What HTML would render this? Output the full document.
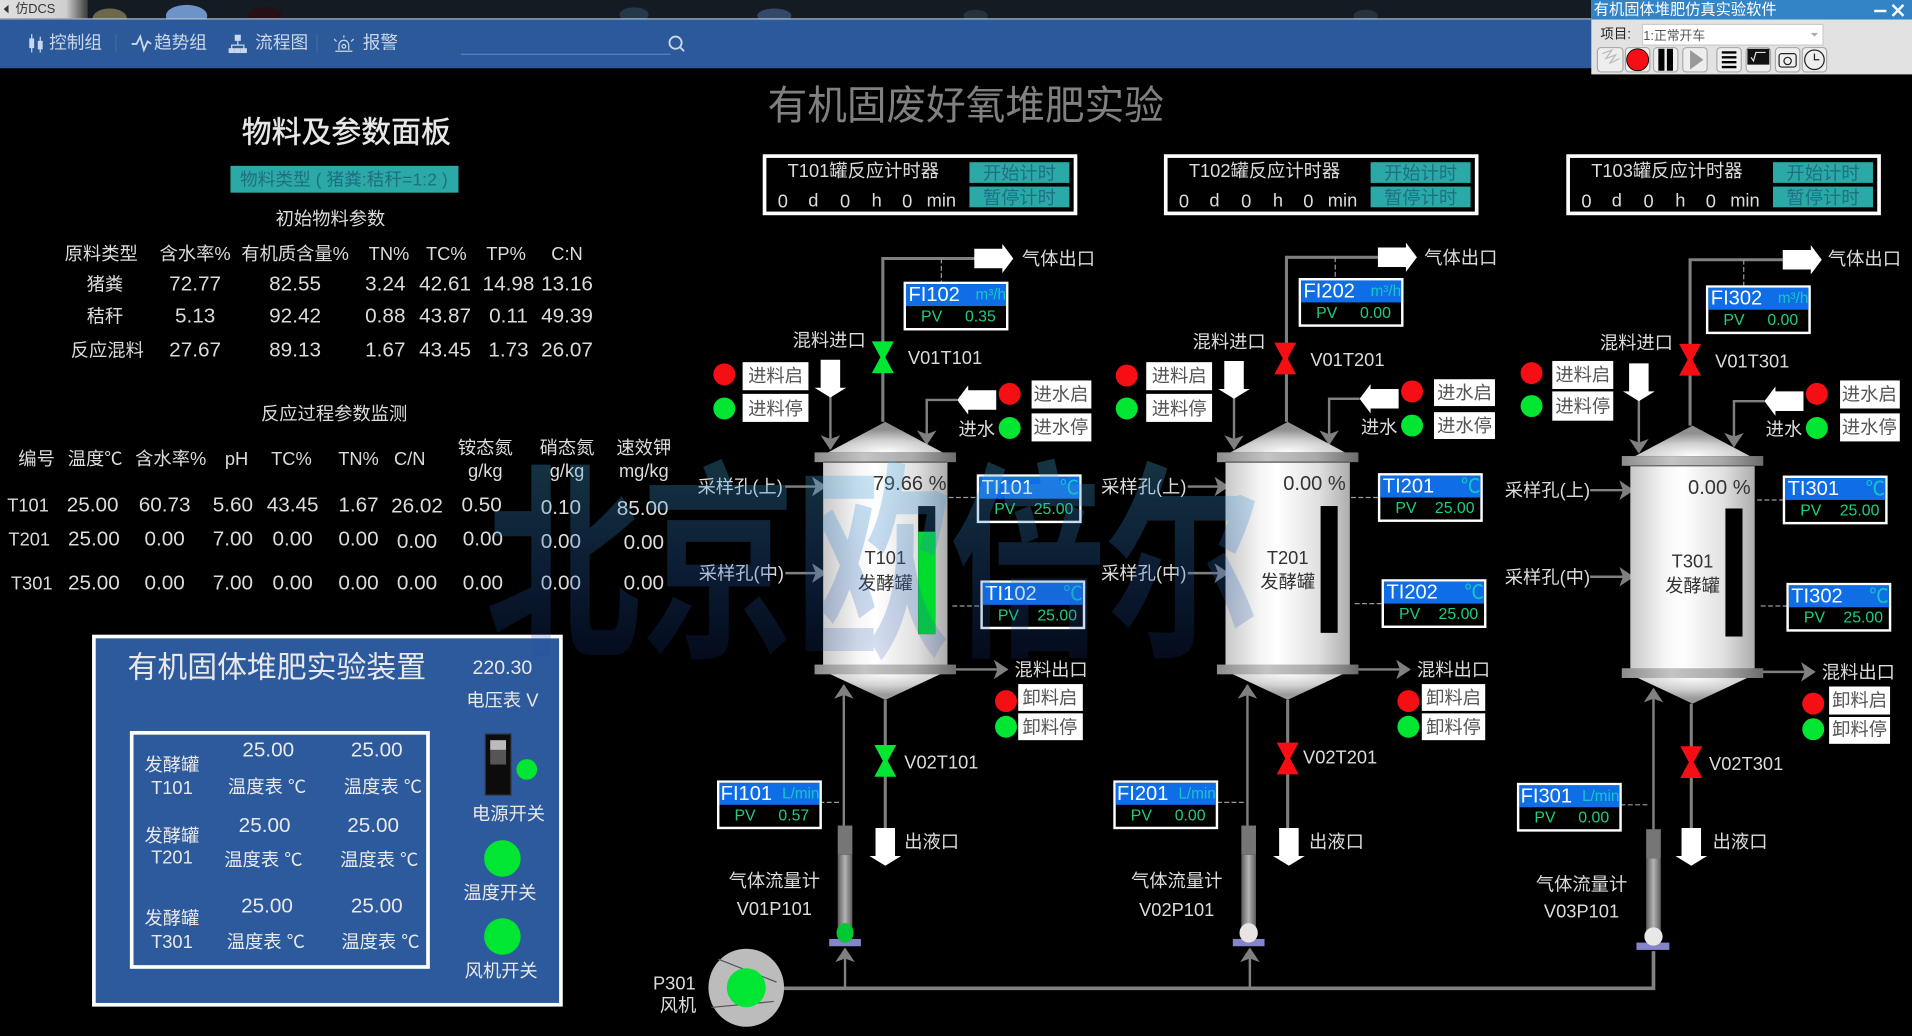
<!DOCTYPE html>
<html><head><meta charset="utf-8"><style>
html,body{margin:0;padding:0;background:#000;width:1912px;height:1036px;overflow:hidden}
svg{display:block;position:absolute;left:0;top:0}
text{font-family:"Liberation Sans","Noto Sans CJK SC",sans-serif;text-anchor:middle;dominant-baseline:central;fill:#dcdcdc;font-size:15px}
.n{font-size:17px}.k{fill:#333}
.lb{fill:#555;font-size:15px}
.nm{text-anchor:start;fill:#fff;font-size:16.5px}
.un{text-anchor:end;fill:#14c8c8;font-size:12.5px}
.pv{fill:#1fcf7c;font-size:13px}
.bt{fill:#1f7085;font-size:15px}
.hd{fill:#c9d8ec;font-size:14.5px}
.pw{fill:#e8e8e8;font-size:15px}
.pw.n{font-size:17px}
</style></head><body>
<svg width="1912" height="1036" viewBox="0 0 1568 849.6" xmlns="http://www.w3.org/2000/svg">
<defs>
<linearGradient id="body" x1="0" x2="1" y1="0" y2="0"><stop offset="0" stop-color="#c8c8c8"/><stop offset=".28" stop-color="#f6f6f6"/><stop offset=".42" stop-color="#fff"/><stop offset=".75" stop-color="#e0e0e0"/><stop offset="1" stop-color="#adadad"/></linearGradient>
<radialGradient id="dome" cx=".5" cy="1" r=".75"><stop offset="0" stop-color="#fff"/><stop offset=".55" stop-color="#d0d0d0"/><stop offset="1" stop-color="#8f8f8f"/></radialGradient>
<radialGradient id="cone" cx=".5" cy="0" r=".8"><stop offset="0" stop-color="#fff"/><stop offset=".6" stop-color="#cfcfcf"/><stop offset="1" stop-color="#9a9a9a"/></radialGradient>
<linearGradient id="fl" x1="0" x2="1" y1="0" y2="0"><stop offset="0" stop-color="#8c8c8c"/><stop offset=".35" stop-color="#c4c4c4"/><stop offset=".7" stop-color="#aaa"/><stop offset="1" stop-color="#6c6c6c"/></linearGradient>
<linearGradient id="fm" x1="0" x2="1" y1="0" y2="0"><stop offset="0" stop-color="#5c5c5c"/><stop offset=".5" stop-color="#b4b4b4"/><stop offset="1" stop-color="#5c5c5c"/></linearGradient>
<linearGradient id="wm" x1="0" x2="0" y1="0" y2="1"><stop offset="0" stop-color="#48b4e0" stop-opacity=".3"/><stop offset=".5" stop-color="#2a6cc0" stop-opacity=".27"/><stop offset="1" stop-color="#1438a0" stop-opacity=".14"/></linearGradient>
<marker id="ah" markerUnits="userSpaceOnUse" markerWidth="14" markerHeight="16" refX="11" refY="8" orient="auto"><path d="M0,0 L12,8 L0,16 L3,8 z" fill="#808080"/></marker>
<g id="tank">
<polygon points="0,0 47,25 -47,25" fill="url(#dome)"/>
<rect x="-51" y="30" width="102" height="172" fill="url(#body)"/>
<rect x="-58" y="25" width="116" height="8" fill="url(#fl)"/>
<line x1="-51" x2="51" y1="33" y2="33" stroke="#555"/>
<polygon points="-47,206 47,206 0,228" fill="url(#cone)"/>
<rect x="-58" y="199" width="116" height="8" fill="url(#fl)"/>
</g>
<g id="ib"><rect x="0" y="0" width="84" height="38" fill="#000" stroke="#fff" stroke-width="2"/><rect x="1" y="1" width="82" height="18" fill="#0f6de6"/></g>
<polygon id="vg" points="-9,-13 9,-13 2,0 9,13 -9,13 -2,0" fill="#00e632"/>
<polygon id="vr" points="-9,-13 9,-13 2,0 9,13 -9,13 -2,0" fill="#f50f14"/>
<polygon id="ad" points="-8,0 8,0 8,23 13,23 0,31 -13,23 -8,23" fill="#fff"/>
<polygon id="ar" points="0,-8 23,-8 23,-12 32,0 23,12 23,8 0,8" fill="#fff"/>
<polygon id="al" points="0,-8 -23,-8 -23,-12 -32,0 -23,12 -23,8 0,8" fill="#fff"/>
<g id="meter"><rect x="-6" y="0" width="12" height="24" fill="#767676"/><rect x="-6" y="24" width="12" height="61" fill="url(#fm)"/></g>
<linearGradient id="tl" x1="0" x2="1" y1="0" y2="0"><stop offset="0" stop-color="#e0e0e0"/><stop offset=".75" stop-color="#d0d0d0"/><stop offset="1" stop-color="#3a3a3a"/></linearGradient>
</defs>

<rect width="1568" height="850" fill="#000"/>
<!-- top strip -->
<rect width="1568" height="15" fill="#141b22"/>
<rect width="72" height="15" fill="url(#tl)"/>
<ellipse cx="90" cy="15" rx="14" ry="8" fill="#6d6a4c"/><ellipse cx="153" cy="13" rx="17" ry="9" fill="#6c94c8"/><ellipse cx="217" cy="12" rx="14" ry="6" fill="#261016"/><ellipse cx="520" cy="12" rx="12" ry="6" fill="#26384c"/><ellipse cx="635" cy="13" rx="14" ry="6" fill="#33486a"/><ellipse cx="800" cy="13" rx="10" ry="5" fill="#26323e"/><ellipse cx="1120" cy="13" rx="10" ry="5" fill="#26323e"/>
<path d="M7,4L3,7.500L7,11z" fill="#333"/>
<text x="29" y="7" style="font-size:10.500px;fill:#333">仿DCS</text>
<rect y="15" width="1568" height="1" fill="#b0c0cc"/>
<rect y="16" width="1568" height="40" fill="#2c5999"/>
<g stroke="#c9d8ec" fill="none">
<path d="M26,28v15M33,30v13" stroke-width="1"/><path d="M24.500,32h3v7h-3zM31.500,34h3v6h-3z" fill="#c9d8ec"/>
<path d="M108,36l4,0 3,-6 3,11 3,-7 3,2" stroke-width="1.500"/>
<path d="M195,33v4M190,41v-4h10v4" stroke-width="1"/><rect x="193" y="29" width="4" height="4" fill="#c9d8ec"/><rect x="188" y="40" width="4" height="3" fill="#c9d8ec"/><rect x="193" y="40" width="4" height="3" fill="#c9d8ec"/><rect x="198" y="40" width="4" height="3" fill="#c9d8ec"/>
<path d="M278,41v-4a4,4 0 0 1 8,0v4M275,42h14M282,29v2M274,32l2,2M290,32l-2,2" stroke-width="1"/><circle cx="282" cy="38" r="1.500"/>
<path d="M378,44.500h172" stroke="#5d83b8"/><circle cx="554" cy="35" r="5" stroke-width="1.500"/><path d="M558,39l3,3" stroke-width="1.500"/>
<path d="M95,28v15M260,28v15" stroke="#3f6aa8"/>
</g>
<text class="hd" x="62" y="35">控制组</text><text class="hd" x="148" y="35">趋势组</text><text class="hd" x="231" y="35">流程图</text><text class="hd" x="312" y="35">报警</text>
<!-- left panel -->
<text x="284" y="109" style="font-size:24.500px;stroke:#e8e8e8;stroke-width:.35;fill:#e8e8e8">物料及参数面板</text>
<rect x="189" y="136" width="187" height="22" fill="#2aa9a6"/>
<text x="282" y="147" style="font-size:14.500px;fill:#1f6f84">物料类型 ( 猪粪:秸秆=1:2 )</text>
<text x="271" y="179">初始物料参数</text>
<text x="83" y="208">原料类型</text><text x="160" y="208">含水率%</text><text x="242" y="208">有机质含量%</text><text x="319" y="208">TN%</text><text x="366" y="208">TC%</text><text x="415" y="208">TP%</text><text x="465" y="208">C:N</text>
<text x="86" y="233">猪粪</text><text class="n" x="160" y="233">72.77</text><text class="n" x="242" y="233">82.55</text><text class="n" x="316" y="233">3.24</text><text class="n" x="365" y="233">42.61</text><text class="n" x="417" y="233">14.98</text><text class="n" x="465" y="233">13.16</text>
<text x="86" y="259">秸秆</text><text class="n" x="160" y="259">5.13</text><text class="n" x="242" y="259">92.42</text><text class="n" x="316" y="259">0.88</text><text class="n" x="365" y="259">43.87</text><text class="n" x="417" y="259">0.11</text><text class="n" x="465" y="259">49.39</text>
<text x="88" y="287">反应混料</text><text class="n" x="160" y="287">27.67</text><text class="n" x="242" y="287">89.13</text><text class="n" x="316" y="287">1.67</text><text class="n" x="365" y="287">43.45</text><text class="n" x="417" y="287">1.73</text><text class="n" x="465" y="287">26.07</text>
<text x="274" y="339">反应过程参数监测</text>
<text x="30" y="376">编号</text><text x="78" y="376">温度℃</text><text x="140" y="376">含水率%</text><text x="194" y="376">pH</text><text x="239" y="376">TC%</text><text x="294" y="376">TN%</text><text x="336" y="376">C/N</text>
<text x="398" y="367">铵态氮</text><text x="398" y="386">g/kg</text><text x="465" y="367">硝态氮</text><text x="465" y="386">g/kg</text><text x="528" y="367">速效钾</text><text x="528" y="386">mg/kg</text>
<text x="23" y="414">T101</text><text class="n" x="76" y="414">25.00</text><text class="n" x="135" y="414">60.73</text><text class="n" x="191" y="414">5.60</text><text class="n" x="240" y="414">43.45</text><text class="n" x="294" y="414">1.67</text><text class="n" x="342" y="415">26.02</text><text class="n" x="395" y="414">0.50</text><text class="n" x="460" y="416">0.10</text><text class="n" x="527" y="417">85.00</text>
<text x="24" y="442">T201</text><text class="n" x="77" y="442">25.00</text><text class="n" x="135" y="442">0.00</text><text class="n" x="191" y="442">7.00</text><text class="n" x="240" y="442">0.00</text><text class="n" x="294" y="442">0.00</text><text class="n" x="342" y="444">0.00</text><text class="n" x="396" y="442">0.00</text><text class="n" x="460" y="444">0.00</text><text class="n" x="528" y="445">0.00</text>
<text x="26" y="478">T301</text><text class="n" x="77" y="478">25.00</text><text class="n" x="135" y="478">0.00</text><text class="n" x="191" y="478">7.00</text><text class="n" x="240" y="478">0.00</text><text class="n" x="294" y="478">0.00</text><text class="n" x="342" y="478">0.00</text><text class="n" x="396" y="478">0.00</text><text class="n" x="460" y="478">0.00</text><text class="n" x="528" y="478">0.00</text>
<!-- device panel -->
<rect x="77" y="522" width="383" height="302" fill="#2d5a9c" stroke="#fff" stroke-width="3"/>
<text class="pw" x="227" y="548" style="font-size:24.500px">有机固体堆肥实验装置</text>
<text class="pw" x="412" y="548" style="font-size:16px">220.30</text><text class="pw" x="412" y="574">电压表 V</text>
<rect x="108" y="601" width="243" height="192" fill="none" stroke="#fff" stroke-width="3"/>
<text class="pw" x="141" y="627">发酵罐</text><text class="pw" x="141" y="646">T101</text><text class="pw n" x="220" y="615">25.00</text><text class="pw n" x="309" y="615">25.00</text><text class="pw" x="219" y="645">温度表 ℃</text><text class="pw" x="314" y="645">温度表 ℃</text>
<text class="pw" x="141" y="685">发酵罐</text><text class="pw" x="141" y="703">T201</text><text class="pw n" x="217" y="677">25.00</text><text class="pw n" x="306" y="677">25.00</text><text class="pw" x="216" y="705">温度表 ℃</text><text class="pw" x="311" y="705">温度表 ℃</text>
<text class="pw" x="141" y="753">发酵罐</text><text class="pw" x="141" y="772">T301</text><text class="pw n" x="219" y="743">25.00</text><text class="pw n" x="309" y="743">25.00</text><text class="pw" x="218" y="772">温度表 ℃</text><text class="pw" x="312" y="772">温度表 ℃</text>
<rect x="398" y="602" width="21" height="50" fill="#0c0c0c" stroke="#333"/><rect x="402" y="607" width="13" height="8" fill="#bbb"/><rect x="402" y="615" width="13" height="12" fill="#555"/>
<circle cx="432" cy="631" r="8.500" fill="#00e632"/><text class="pw" x="417" y="667">电源开关</text>
<circle cx="412" cy="704" r="15" fill="#00e632"/><text class="pw" x="410" y="732">温度开关</text>
<circle cx="412" cy="768" r="15" fill="#00e632"/><text class="pw" x="411" y="796">风机开关</text>
<!-- title -->
<text x="792" y="87" style="font-size:32.500px;fill:#808080">有机固废好氧堆肥实验</text>
<!-- timers -->
<g id="t1"><rect x="627" y="128" width="255" height="47" fill="#000" stroke="#fff" stroke-width="3"/><rect x="795" y="133" width="82" height="17" fill="#2aa9a6"/><rect x="795" y="153" width="82" height="17" fill="#2aa9a6"/>
<text x="708" y="140">T101罐反应计时器</text><text class="bt" x="836" y="142">开始计时</text><text class="bt" x="836" y="162">暂停计时</text>
<text x="642" y="165">0</text><text x="667" y="164">d</text><text x="693" y="165">0</text><text x="719" y="164">h</text><text x="744" y="165">0</text><text x="772" y="164">min</text></g>
<g transform="translate(329,0)"><rect x="627" y="128" width="255" height="47" fill="#000" stroke="#fff" stroke-width="3"/><rect x="795" y="133" width="82" height="17" fill="#2aa9a6"/><rect x="795" y="153" width="82" height="17" fill="#2aa9a6"/>
<text x="708" y="140">T102罐反应计时器</text><text class="bt" x="836" y="142">开始计时</text><text class="bt" x="836" y="162">暂停计时</text>
<text x="642" y="165">0</text><text x="667" y="164">d</text><text x="693" y="165">0</text><text x="719" y="164">h</text><text x="744" y="165">0</text><text x="772" y="164">min</text></g>
<g transform="translate(659,0)"><rect x="627" y="128" width="255" height="47" fill="#000" stroke="#fff" stroke-width="3"/><rect x="795" y="133" width="82" height="17" fill="#2aa9a6"/><rect x="795" y="153" width="82" height="17" fill="#2aa9a6"/>
<text x="708" y="140">T103罐反应计时器</text><text class="bt" x="836" y="142">开始计时</text><text class="bt" x="836" y="162">暂停计时</text>
<text x="642" y="165">0</text><text x="667" y="164">d</text><text x="693" y="165">0</text><text x="719" y="164">h</text><text x="744" y="165">0</text><text x="772" y="164">min</text></g>

<!-- pipes -->
<g fill="none" stroke="#808080" stroke-width="2">
<path d="M724,346V212H800" stroke-width="2.500"/><path d="M681,325V368" marker-end="url(#ah)"/><path d="M785,328H760V364" marker-end="url(#ah)"/>
<path d="M644,399H677" marker-end="url(#ah)"/><path d="M644,470H677" marker-end="url(#ah)"/><path d="M782,549H826" marker-end="url(#ah)"/>
<path d="M726,574V680" stroke-width="2.500"/><path d="M692,677V562" marker-end="url(#ah)"/>
<path d="M1055,346V211H1130" stroke-width="2.500"/><path d="M1012,325V368" marker-end="url(#ah)"/><path d="M1115,327H1090V364" marker-end="url(#ah)"/>
<path d="M974,399H1007" marker-end="url(#ah)"/><path d="M974,470H1007" marker-end="url(#ah)"/><path d="M1112,549H1156" marker-end="url(#ah)"/>
<path d="M1056,574V680" stroke-width="2.500"/><path d="M1023,677V562" marker-end="url(#ah)"/>
<path d="M1386,349V213H1462" stroke-width="2.500"/><path d="M1344,328V371" marker-end="url(#ah)"/><path d="M1447,329H1422V366" marker-end="url(#ah)"/>
<path d="M1304,402H1339" marker-end="url(#ah)"/><path d="M1304,473H1339" marker-end="url(#ah)"/><path d="M1444,551H1488" marker-end="url(#ah)"/>
<path d="M1387,577V680" stroke-width="2.500"/><path d="M1356,680V565" marker-end="url(#ah)"/>
<path d="M640,810.500H1356V780" stroke-width="3"/><path d="M693,810V778" stroke-width="2" marker-end="url(#ah)"/><path d="M1025,810V778" marker-end="url(#ah)"/>
</g>
<g fill="none" stroke="#999" stroke-dasharray="4 2">
<path d="M772,212V232M1095,211V229M1430,213V235"/>
<path d="M778,408H802M781,497H805M1108,408H1131M1111,495H1134M1441,410H1463M1444,497H1466"/>
<path d="M672,658H690M998,658H1021M1329,660H1352"/>
</g>
<!-- tanks -->
<use href="#tank" x="726" y="346"/><use href="#tank" x="1056" y="346"/><use href="#tank" x="1388" y="349"/>
<rect x="753" y="415" width="14" height="105" fill="#000"/><rect x="753" y="436" width="14" height="84" fill="#00dc2e"/>
<rect x="1083" y="415" width="14" height="104" fill="#000"/><rect x="1415" y="417" width="14" height="105" fill="#000"/>
<text class="k" x="746" y="397" style="font-size:16.500px">79.66 %</text><text class="k" x="1078" y="397" style="font-size:16.500px">0.00  %</text><text class="k" x="1410" y="400" style="font-size:16.500px">0.00  %</text>
<text class="k" x="726" y="457">T101</text><text class="k" x="726" y="478">发酵罐</text>
<text class="k" x="1056" y="457">T201</text><text class="k" x="1056" y="477">发酵罐</text>
<text class="k" x="1388" y="460">T301</text><text class="k" x="1388" y="480">发酵罐</text>
<!-- arrows -->
<use href="#ar" x="799" y="212"/><use href="#ar" x="1130" y="211"/><use href="#ar" x="1462" y="213"/>
<use href="#ad" x="681" y="295"/><use href="#ad" x="1012" y="296"/><use href="#ad" x="1344" y="298"/>
<use href="#al" x="817" y="328"/><use href="#al" x="1147" y="327"/><use href="#al" x="1479" y="329"/>
<use href="#ad" x="726" y="679"/><use href="#ad" x="1057" y="679"/><use href="#ad" x="1387" y="679"/>
<!-- valves -->
<use href="#vg" x="724" y="293"/><use href="#vr" x="1054" y="294"/><use href="#vr" x="1386" y="295"/>
<use href="#vg" x="726" y="624"/><use href="#vr" x="1056" y="622"/><use href="#vr" x="1387" y="625"/>
<text x="775" y="293">V01T101</text><text x="1105" y="295">V01T201</text><text x="1437" y="296">V01T301</text>
<text x="772" y="625">V02T101</text><text x="1099" y="621">V02T201</text><text x="1432" y="626">V02T301</text>
<!-- labels -->
<text x="868" y="212">气体出口</text><text x="1198" y="211">气体出口</text><text x="1529" y="212">气体出口</text>
<text x="680" y="279">混料进口</text><text x="1008" y="280">混料进口</text><text x="1342" y="281">混料进口</text>
<text x="607" y="399">采样孔(上)</text><text x="608" y="470">采样孔(中)</text><text x="938" y="399">采样孔(上)</text><text x="938" y="470">采样孔(中)</text><text x="1269" y="402">采样孔(上)</text><text x="1269" y="473">采样孔(中)</text>
<text x="862" y="549">混料出口</text><text x="1192" y="549">混料出口</text><text x="1524" y="551">混料出口</text>
<text x="801" y="352">进水</text><text x="1131" y="350">进水</text><text x="1463" y="352">进水</text>
<text x="764" y="690">出液口</text><text x="1096" y="690">出液口</text><text x="1427" y="690">出液口</text>
<text x="635" y="722">气体流量计</text><text x="635" y="745">V01P101</text><text x="965" y="722">气体流量计</text><text x="965" y="746">V02P101</text><text x="1297" y="725">气体流量计</text><text x="1297" y="747">V03P101</text>
<!-- dots + button labels -->
<g fill="#f50f14"><circle cx="594" cy="307" r="9"/><circle cx="828" cy="323" r="9"/><circle cx="825" cy="575" r="9"/><circle cx="924" cy="308" r="9"/><circle cx="1158" cy="321" r="9"/><circle cx="1155" cy="575" r="9"/><circle cx="1256" cy="306" r="9"/><circle cx="1490" cy="323" r="9"/><circle cx="1487" cy="577" r="9"/></g>
<g fill="#00e632"><circle cx="594" cy="335" r="9"/><circle cx="828" cy="351" r="9"/><circle cx="825" cy="596" r="9"/><circle cx="924" cy="335" r="9"/><circle cx="1158" cy="349" r="9"/><circle cx="1155" cy="596" r="9"/><circle cx="1256" cy="333" r="9"/><circle cx="1490" cy="351" r="9"/><circle cx="1487" cy="598" r="9"/></g>
<g fill="#fff">
<rect x="609" y="297" width="54" height="23"/><rect x="609" y="323" width="54" height="23"/><rect x="846" y="312" width="49" height="23"/><rect x="846" y="339" width="49" height="23"/><rect x="835" y="561" width="53" height="22"/><rect x="835" y="585" width="53" height="22"/>
<rect x="940" y="297" width="54" height="23"/><rect x="940" y="323" width="54" height="23"/><rect x="1176" y="311" width="50" height="22"/><rect x="1176" y="338" width="50" height="22"/><rect x="1166" y="561" width="52" height="22"/><rect x="1166" y="585" width="52" height="22"/>
<rect x="1273" y="296" width="50" height="23"/><rect x="1273" y="321" width="50" height="24"/><rect x="1509" y="312" width="49" height="23"/><rect x="1509" y="339" width="49" height="23"/><rect x="1500" y="563" width="50" height="23"/><rect x="1500" y="588" width="50" height="22"/>
</g>
<text class="lb" x="636" y="308">进料启</text><text class="lb" x="636" y="335">进料停</text><text class="lb" x="870" y="323">进水启</text><text class="lb" x="870" y="350">进水停</text><text class="lb" x="861" y="572">卸料启</text><text class="lb" x="861" y="596">卸料停</text>
<text class="lb" x="967" y="308">进料启</text><text class="lb" x="967" y="335">进料停</text><text class="lb" x="1201" y="322">进水启</text><text class="lb" x="1201" y="349">进水停</text><text class="lb" x="1192" y="572">卸料启</text><text class="lb" x="1192" y="596">卸料停</text>
<text class="lb" x="1298" y="307">进料启</text><text class="lb" x="1298" y="333">进料停</text><text class="lb" x="1533" y="323">进水启</text><text class="lb" x="1533" y="350">进水停</text><text class="lb" x="1525" y="574">卸料启</text><text class="lb" x="1525" y="598">卸料停</text>
<!-- instruments -->
<g transform="translate(742,232)"><use href="#ib"/><text class="nm" x="3" y="10">FI102</text><text class="un" x="83" y="10">m³/h</text><text class="pv" x="22" y="28">PV</text><text class="pv" x="62" y="28">0.35</text></g>
<g transform="translate(1066,229)"><use href="#ib"/><text class="nm" x="3" y="10">FI202</text><text class="un" x="83" y="10">m³/h</text><text class="pv" x="22" y="28">PV</text><text class="pv" x="62" y="28">0.00</text></g>
<g transform="translate(1400,235)"><use href="#ib"/><text class="nm" x="3" y="10">FI302</text><text class="un" x="83" y="10">m³/h</text><text class="pv" x="22" y="28">PV</text><text class="pv" x="62" y="28">0.00</text></g>
<g transform="translate(802,390)"><use href="#ib"/><text class="nm" x="3" y="10">TI101</text><text class="un" x="83" y="10" style="font-size:16px">℃</text><text class="pv" x="22" y="28">PV</text><text class="pv" x="62" y="28">25.00</text></g>
<g transform="translate(805,477)"><use href="#ib"/><text class="nm" x="3" y="10">TI102</text><text class="un" x="83" y="10" style="font-size:16px">℃</text><text class="pv" x="22" y="28">PV</text><text class="pv" x="62" y="28">25.00</text></g>
<g transform="translate(1131,389)"><use href="#ib"/><text class="nm" x="3" y="10">TI201</text><text class="un" x="83" y="10" style="font-size:16px">℃</text><text class="pv" x="22" y="28">PV</text><text class="pv" x="62" y="28">25.00</text></g>
<g transform="translate(1134,476)"><use href="#ib"/><text class="nm" x="3" y="10">TI202</text><text class="un" x="83" y="10" style="font-size:16px">℃</text><text class="pv" x="22" y="28">PV</text><text class="pv" x="62" y="28">25.00</text></g>
<g transform="translate(1463,391)"><use href="#ib"/><text class="nm" x="3" y="10">TI301</text><text class="un" x="83" y="10" style="font-size:16px">℃</text><text class="pv" x="22" y="28">PV</text><text class="pv" x="62" y="28">25.00</text></g>
<g transform="translate(1466,479)"><use href="#ib"/><text class="nm" x="3" y="10">TI302</text><text class="un" x="83" y="10" style="font-size:16px">℃</text><text class="pv" x="22" y="28">PV</text><text class="pv" x="62" y="28">25.00</text></g>
<g transform="translate(589,641)"><use href="#ib"/><text class="nm" x="2" y="10">FI101</text><text class="un" x="83" y="10">L/min</text><text class="pv" x="22" y="28">PV</text><text class="pv" x="62" y="28">0.57</text></g>
<g transform="translate(914,641)"><use href="#ib"/><text class="nm" x="2" y="10">FI201</text><text class="un" x="83" y="10">L/min</text><text class="pv" x="22" y="28">PV</text><text class="pv" x="62" y="28">0.00</text></g>
<g transform="translate(1245,643)"><use href="#ib"/><text class="nm" x="2" y="10">FI301</text><text class="un" x="83" y="10">L/min</text><text class="pv" x="22" y="28">PV</text><text class="pv" x="62" y="28">0.00</text></g>
<!-- flow meters -->
<use href="#meter" x="693" y="677"/><use href="#meter" x="1024" y="677"/><use href="#meter" x="1356" y="680"/>
<rect x="680" y="770" width="26" height="6" fill="#8484c8"/><rect x="1011" y="770" width="26" height="6" fill="#8484c8"/><rect x="1342" y="773" width="27" height="6" fill="#8484c8"/>
<ellipse cx="693" cy="765" rx="7" ry="8" fill="#00c830"/><ellipse cx="1024" cy="765" rx="7.500" ry="8" fill="#e8e4e4"/><ellipse cx="1356" cy="768" rx="7.500" ry="7.500" fill="#e8e8e8"/>
<!-- blower -->
<ellipse cx="612" cy="810" rx="31" ry="32" fill="#bcbcbc"/>
<path d="M586,790l50,12M586,830l50,-12" stroke="#555" stroke-width="1" fill="none" transform="rotate(8 612 810)"/>
<ellipse cx="612" cy="810" rx="16" ry="16" fill="#00e632"/>
<text x="553" y="806">P301</text><text x="556" y="824">风机</text>
<!-- watermark -->
<text transform="translate(716,466) scale(1,1.36)" style="font-size:127px;font-weight:bold;fill:url(#wm)">北京欧倍尔</text>
<!-- sim window -->
<rect x="1305" width="263" height="61" fill="#e2e2e2"/>
<rect x="1305" width="263" height="16" fill="#3284c6"/>
<text x="1382" y="8" style="font-size:12.500px;fill:#fff">有机固体堆肥仿真实验软件</text>
<path d="M1537,9h10" stroke="#fff" stroke-width="2"/><path d="M1552,4l9,9M1561,4l-9,9" stroke="#fff" stroke-width="2"/>
<text x="1325" y="28" style="font-size:11px;fill:#222">项目:</text>
<rect x="1347" y="20" width="148" height="17" fill="#fff" stroke="#ccc"/><text x="1373" y="29" style="font-size:10.500px;fill:#555">1:正常开车</text>
<path d="M1485,27h6l-3,3z" fill="#aaa"/>
<g fill="#eee" stroke="#aaa"><rect x="1310" y="39" width="21" height="20" rx="3"/><rect x="1333" y="39" width="20" height="20" rx="3"/><rect x="1356" y="39" width="20" height="20" rx="3"/><rect x="1380" y="39" width="20" height="20" rx="3"/><rect x="1408" y="39" width="20" height="20" rx="3"/><rect x="1432" y="39" width="20" height="20" rx="3"/><rect x="1456" y="39" width="20" height="20" rx="3"/><rect x="1478" y="39" width="20" height="20" rx="3"/></g>
<path d="M1314,44l8,-3-5,7 8,-3-5,7 8,-4" fill="none" stroke="#bbb"/>
<circle cx="1343" cy="49" r="9" fill="#f50f14" stroke="#000" stroke-width=".7"/>
<rect x="1360" y="40" width="5" height="18" fill="#000"/><rect x="1367" y="40" width="5" height="18" fill="#000"/>
<polygon points="1386,41 1397,49 1386,57" fill="#999"/>
<path d="M1412,43h12M1412,47h12M1412,51h12M1412,55h12" stroke="#000" stroke-width="2"/>
<rect x="1433" y="40" width="18" height="13" fill="#111"/><path d="M1436,47l2,3 2,-7h8" stroke="#ddd" fill="none"/>
<rect x="1459" y="44" width="14" height="11" rx="2" fill="none" stroke="#222"/><circle cx="1466" cy="50" r="3" fill="none" stroke="#222"/>
<circle cx="1488" cy="49" r="8" fill="none" stroke="#222"/><path d="M1488,44v5h4" stroke="#222" fill="none"/>
</svg>
</body></html>
